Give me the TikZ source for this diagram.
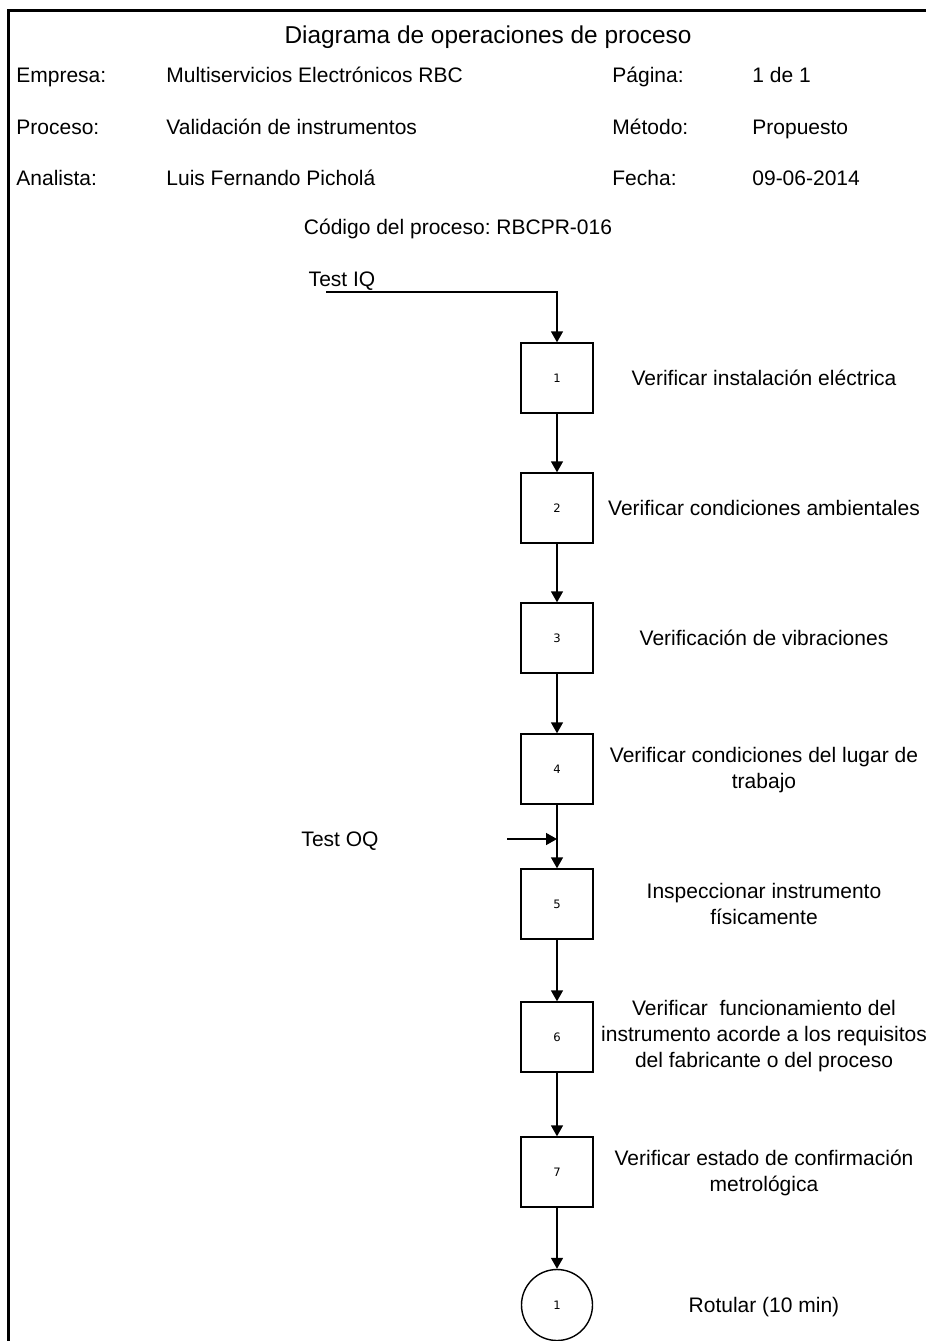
\documentclass[tikz,border=0pt]{standalone}
\usepackage{fontspec}
\setmainfont{Liberation Sans}
\newfontfamily\numfont{DejaVu Sans}
\usetikzlibrary{arrows.meta}
\frenchspacing
\begin{document}
\begin{tikzpicture}[x=0.5pt,y=-0.5pt,
  opbox/.style={draw,line width=0.7pt,minimum width=36pt,minimum height=35pt,inner sep=0pt,font=\numfont\fontsize{5.8}{7}\selectfont},
  inspcircle/.style={draw,circle,line width=0.7pt,minimum size=35.5pt,inner sep=0pt,font=\numfont\fontsize{5.8}{7}\selectfont},
  flow/.style={line width=0.75pt,-{Triangle[width=6pt,length=5.5pt]}},
  field/.style={anchor=base west,inner sep=0pt,font=\fontsize{10.5}{13}\selectfont},
  oneline/.style={anchor=base,inner sep=0pt,font=\fontsize{10.5}{13}\selectfont},
  desc/.style={align=center,inner sep=0pt,font=\fontsize{10.5}{13}\selectfont}
]
\useasboundingbox (0,0) rectangle (926,1341);

% frame
\draw[line width=1.5pt] (8.5,1341) -- (8.5,10.5) -- (926,10.5);

% header
\node[anchor=base,inner sep=0pt,font=\fontsize{12.2}{14}\selectfont] (title) at (488,43) {Diagrama de operaciones de proceso};

\node[field] (l1) at (16,82.5) {Empresa:};
\node[field] (v1) at (166,82.5) {Multiservicios Electrónicos RBC};
\node[field] (l2) at (612,82.5) {Página:};
\node[field] (v2) at (752,82.5) {1 de 1};

\node[field] (l3) at (16,134.5) {Proceso:};
\node[field] (v3) at (166,134.5) {Validación de instrumentos};
\node[field] (l4) at (612,134.5) {Método:};
\node[field] (v4) at (752,134.5) {Propuesto};

\node[field] (l5) at (16,185.5) {Analista:};
\node[field] (v5) at (166,185.5) {Luis Fernando Picholá};
\node[field] (l6) at (612,185.5) {Fecha:};
\node[field] (v6) at (752,185.5) {09-06-2014};

\node[oneline] (code) at (458,234.5) {Código del proceso: RBCPR-016};

% operations
\node[opbox] (op1) at (557,378) {1};
\node[opbox] (op2) at (557,508) {2};
\node[opbox] (op3) at (557,638) {3};
\node[opbox] (op4) at (557,769) {4};
\node[opbox] (op5) at (557,904) {5};
\node[opbox] (op6) at (557,1037) {6};
\node[opbox] (op7) at (557,1172) {7};
\node[inspcircle] (in1) at (557,1305) {1};

% descriptions
\node[oneline] (d1) at (764,385.5) {Verificar instalación eléctrica};
\node[oneline] (d2) at (764,515.5) {Verificar condiciones ambientales};
\node[oneline] (d3) at (764,645.5) {Verificación de vibraciones};
\node[desc] (d4) at (764,770) {Verificar condiciones del lugar de\\trabajo};
\node[desc] (d5) at (764,904) {Inspeccionar instrumento\\físicamente};
\node[desc] (d6) at (764,1036) {Verificar~ funcionamiento del\\instrumento acorde a los requisitos\\del fabricante o del proceso};
\node[desc] (d7) at (764,1173) {Verificar estado de confirmación\\metrológica};
\node[oneline] (d8) at (764,1312.5) {Rotular (10 min)};

% inputs
\node[oneline] (tiq) at (342,286.5) {Test IQ};
\coordinate (iqstart) at (326,292);
\node[oneline] (toq) at (340,846.5) {Test OQ};
\coordinate (oqstart) at (507,839);
\coordinate (oqjoin) at (557,839);

% connectors
\draw[flow] (iqstart) -| (op1.north);
\draw[flow] (op1) -- (op2);
\draw[flow] (op2) -- (op3);
\draw[flow] (op3) -- (op4);
\draw[flow] (op4) -- (op5);
\draw[flow] (oqstart) -- (oqjoin);
\draw[flow] (op5) -- (op6);
\draw[flow] (op6) -- (op7);
\draw[flow] (op7) -- (in1);
\end{tikzpicture}
\end{document}
